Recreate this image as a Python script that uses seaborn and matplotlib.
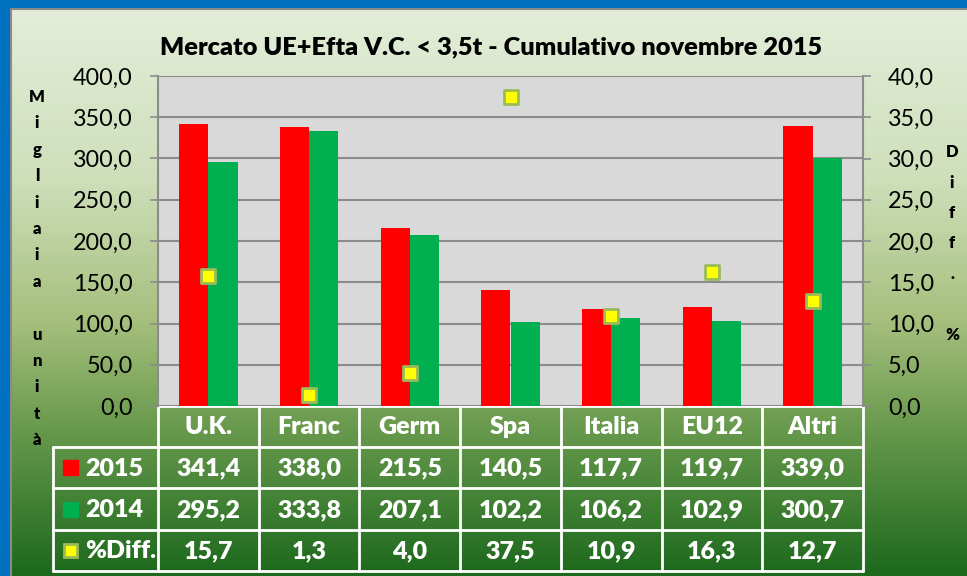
import numpy as np
import pandas as pd
import matplotlib
matplotlib.use("Agg")
import matplotlib.pyplot as plt
import matplotlib.transforms as mtransforms
from matplotlib.colors import LinearSegmentedColormap
from matplotlib.ticker import FuncFormatter, MultipleLocator
import seaborn as sns

# ---------------- data ----------------
categories = ["U.K.", "Franc", "Germ", "Spa", "Italia", "EU12", "Altri"]
values_2015 = [341.4, 338.0, 215.5, 140.5, 117.7, 119.7, 339.0]
values_2014 = [295.2, 333.8, 207.1, 102.2, 106.2, 102.9, 300.7]
pct_diff = [15.7, 1.3, 4.0, 37.5, 10.9, 16.3, 12.7]
series_names = ["2015", "2014"]
diff_name = "%Diff."
title = "Mercato UE+Efta V.C. < 3,5t - Cumulativo novembre 2015"
left_label = "Migliaia unità"
right_label = "Diff. %"

RED = "#FF0000"
GREEN = "#00B050"
YELLOW = "#FFFF00"
MARK_EDGE = "#9BBB59"

sns.set_theme(style="white")
FONT = "Lato"
plt.rcParams["font.family"] = [FONT, "DejaVu Sans"]
BOLD = 800

W, H = 967, 576
fig = plt.figure(figsize=(W / 100, H / 100), dpi=100)
fig.patch.set_facecolor("#0070C0")

# background overlay in pixel coordinates
bg = fig.add_axes([0, 0, 1, 1], zorder=-5)
bg.set_xlim(0, W)
bg.set_ylim(H, 0)
bg.axis("off")
cmap = LinearSegmentedColormap.from_list(
    "bggrad",
    [(0.0, (0.89, 0.93, 0.85)),
     (0.30, (0.81, 0.875, 0.73)),
     (0.55, (0.65, 0.75, 0.49)),
     (0.73, (0.42, 0.61, 0.31)),
     (1.0, (0.11, 0.41, 0.11))])
grad = np.linspace(0, 1, 256).reshape(-1, 1)
bg.imshow(grad, cmap=cmap, aspect="auto", extent=(11, W, H, 9), zorder=0)
bg.plot([11, 11, W], [H, 9, 9], color="#8A8A8A", lw=1.5, zorder=1)

# main axes (plot area)
L, R, T, B = 158, 863, 76, 406
ax = fig.add_axes([L / W, 1 - B / H, (R - L) / W, (B - T) / H], zorder=2)
ax.set_facecolor("#D9D9D9")

df = pd.DataFrame({
    "cat": categories * 2,
    "val": values_2015 + values_2014,
    "year": [series_names[0]] * len(categories) + [series_names[1]] * len(categories),
})
sns.barplot(data=df, x="cat", y="val", hue="year", order=categories,
            hue_order=series_names, palette=[RED, GREEN], width=0.58,
            saturation=1, gap=0, ax=ax, zorder=3, linewidth=0)
if ax.get_legend():
    ax.get_legend().remove()

ax.set_xlim(-0.5, len(categories) - 0.5)
ax.set_ylim(0, 400)
ax.yaxis.set_major_locator(MultipleLocator(50))
fmt = FuncFormatter(lambda v, p: f"{v:.1f}".replace(".", ","))
ax.yaxis.set_major_formatter(fmt)
ax.grid(axis="y", color="#8C8C8C", lw=1.5, zorder=1)
ax.set_axisbelow(True)
ax.set_xlabel("")
ax.set_ylabel("")
ax.set_xticks([])
ax.tick_params(axis="y", which="major", length=6, width=1.2, color="#8C8C8C",
               pad=12, labelsize=16.8, labelcolor="black", left=True)
for s in ["top", "bottom", "right"]:
    ax.spines[s].set_visible(False)
ax.spines["left"].set_color("#8C8C8C")
ax.spines["left"].set_linewidth(1.5)

ax2 = ax.twinx()
ax2.set_ylim(0, 40)
ax2.yaxis.set_major_locator(MultipleLocator(5))
ax2.yaxis.set_major_formatter(fmt)
sns.scatterplot(x=np.arange(len(categories)), y=pct_diff, marker="s", s=110,
                color=YELLOW, edgecolor=MARK_EDGE, linewidth=2, ax=ax2, zorder=5)
ax2.set_xlim(-0.5, len(categories) - 0.5)
ax2.tick_params(axis="y", which="major", length=6, width=1.2, color="#8C8C8C",
                pad=12, labelsize=16.8, labelcolor="black", right=True)
for s in ["top", "bottom", "left"]:
    ax2.spines[s].set_visible(False)
ax2.spines["right"].set_color("#8C8C8C")
ax2.spines["right"].set_linewidth(1.5)
ax2.grid(False)

# title
bg.text(491, 47, title, ha="center", va="center", fontsize=18.3,
        fontweight=BOLD, color="black")

# vertical axis titles (stacked characters)
for i, ch in enumerate(left_label):
    bg.text(37, 97 + i * 26.4, ch, ha="center", va="center", fontsize=12,
            fontweight=BOLD, color="black")
for i, ch in enumerate(right_label):
    bg.text(952, 152 + i * 30.5, ch, ha="center", va="center", fontsize=12,
            fontweight=BOLD, color="black")

# data table
tr = mtransforms.blended_transform_factory(ax.transData, bg.transData)
n = len(categories)
row_edges = [406, 447, 488, 530, 571]
LEG_X0 = 53
lw_t = 2
bg.plot([L, R], [row_edges[0]] * 2, color="white", lw=lw_t, zorder=6)
for y in row_edges[1:]:
    bg.plot([LEG_X0, R], [y, y], color="white", lw=lw_t, zorder=6)
for k in range(n + 1):
    bg.plot([k - 0.5, k - 0.5], [row_edges[0], row_edges[-1]], color="white",
            lw=lw_t, transform=tr, zorder=6)
bg.plot([LEG_X0, LEG_X0], [row_edges[1], row_edges[-1]], color="white",
        lw=lw_t, zorder=6)

def mid(i):
    return (row_edges[i] + row_edges[i + 1]) / 2

TS = 18
for k, c in enumerate(categories):
    bg.text(k, mid(0) + 1, c, transform=tr, ha="center", va="center",
            fontsize=TS, fontweight=BOLD, color="white", zorder=7)
    for r, arr in zip([1, 2, 3], [values_2015, values_2014, pct_diff]):
        bg.text(k, mid(r) + 1, f"{arr[k]:.1f}".replace(".", ","), transform=tr,
                ha="center", va="center", fontsize=TS, fontweight=BOLD,
                color="white", zorder=7)

# legend keys
bg.add_patch(plt.Rectangle((63, mid(1) - 7.5), 15, 15, color=RED, zorder=7))
bg.add_patch(plt.Rectangle((63, mid(2) - 7.5), 15, 15, color=GREEN, zorder=7))
bg.add_patch(plt.Rectangle((64, mid(3) - 6.5), 13, 13, facecolor=YELLOW,
                           edgecolor=MARK_EDGE, lw=2, zorder=7))
for i, lab in zip([1, 2, 3], series_names + [diff_name]):
    bg.text(85, mid(i) + 1, lab, ha="left", va="center", fontsize=TS,
            fontweight=BOLD, color="white", zorder=7)

fig.savefig("out.png", dpi=100)
